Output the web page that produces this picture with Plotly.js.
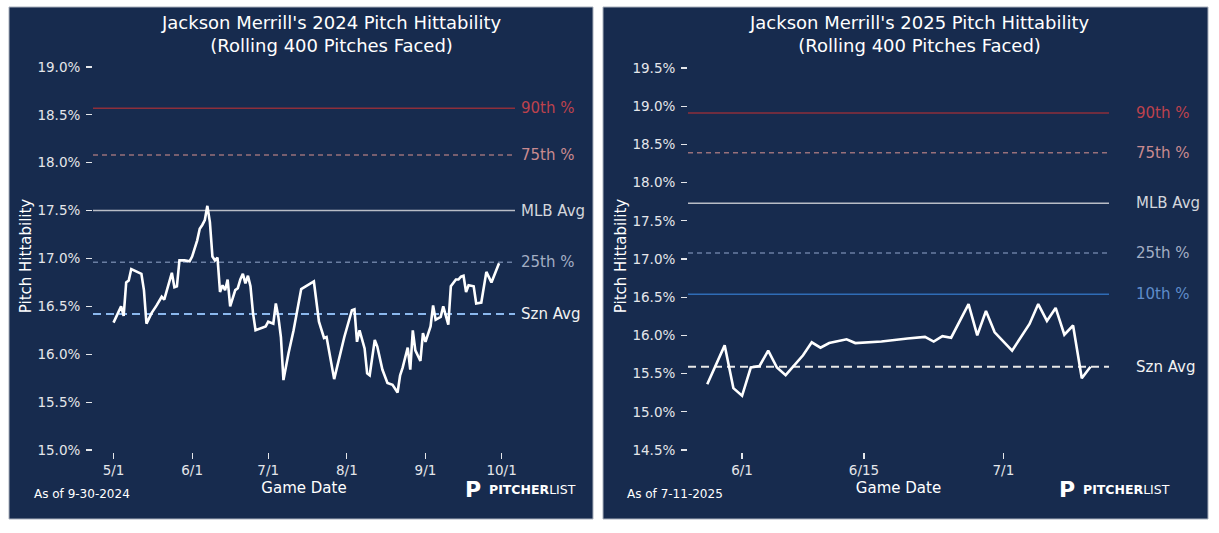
<!DOCTYPE html>
<html>
<head>
<meta charset="utf-8">
<script src="https://cdn.plot.ly/plotly-3.0.1.min.js"></script>
<style>
  html, body { margin: 0; padding: 0; background: #ffffff; }
  #chart { width: 1219px; height: 533px; }
</style>
</head>
<body>
<div id="chart"></div>
<script>
const NAVY = '#172b4e';
const FG = '#ffffff';
const TICK = '#e4e6ea';

// 2024 rolling pitch hittability (%)
const dates2024 = [
  '2024-05-01', '2024-05-04', '2024-05-05', '2024-05-06', '2024-05-07', '2024-05-08',
  '2024-05-12', '2024-05-13', '2024-05-14', '2024-05-16', '2024-05-18', '2024-05-20',
  '2024-05-21', '2024-05-22', '2024-05-24', '2024-05-25', '2024-05-26', '2024-05-27',
  '2024-05-29', '2024-05-31', '2024-06-01', '2024-06-03', '2024-06-04', '2024-06-05',
  '2024-06-06', '2024-06-07', '2024-06-08', '2024-06-09', '2024-06-10', '2024-06-11',
  '2024-06-12', '2024-06-13', '2024-06-14', '2024-06-15', '2024-06-16', '2024-06-18',
  '2024-06-19', '2024-06-20', '2024-06-21', '2024-06-22', '2024-06-23', '2024-06-24',
  '2024-06-25', '2024-06-26', '2024-06-30', '2024-07-01', '2024-07-03', '2024-07-04',
  '2024-07-05', '2024-07-06', '2024-07-07', '2024-07-09', '2024-07-11', '2024-07-14',
  '2024-07-19', '2024-07-21', '2024-07-23', '2024-07-24', '2024-07-26', '2024-07-27',
  '2024-07-31', '2024-08-03', '2024-08-04', '2024-08-05', '2024-08-06', '2024-08-08',
  '2024-08-09', '2024-08-10', '2024-08-12', '2024-08-13', '2024-08-15', '2024-08-17',
  '2024-08-19', '2024-08-21', '2024-08-22', '2024-08-23', '2024-08-25', '2024-08-26',
  '2024-08-27', '2024-08-28', '2024-08-30', '2024-08-31', '2024-09-01', '2024-09-03',
  '2024-09-04', '2024-09-05', '2024-09-07', '2024-09-08', '2024-09-10', '2024-09-11',
  '2024-09-13', '2024-09-14', '2024-09-15', '2024-09-16', '2024-09-17', '2024-09-18',
  '2024-09-20', '2024-09-21', '2024-09-23', '2024-09-25', '2024-09-27', '2024-09-30'
];
const hit2024 = [
  16.33, 16.50, 16.40, 16.75, 16.77, 16.89,
  16.84, 16.67, 16.32, 16.43, 16.51, 16.60,
  16.57, 16.67, 16.85, 16.70, 16.71, 16.98,
  16.98, 16.97, 17.02, 17.19, 17.31, 17.35,
  17.40, 17.55, 17.38, 17.02, 16.98, 17.01,
  16.65, 16.72, 16.67, 16.78, 16.50, 16.67,
  16.69, 16.78, 16.84, 16.74, 16.82, 16.71,
  16.43, 16.25, 16.29, 16.34, 16.32, 16.53,
  16.39, 16.18, 15.73, 16.01, 16.25, 16.68,
  16.76, 16.34, 16.17, 16.18, 15.86, 15.74,
  16.18, 16.46, 16.47, 16.13, 16.25, 16.06,
  15.80, 15.78, 16.15, 16.08, 15.84, 15.70,
  15.68, 15.60, 15.78, 15.86, 16.07, 15.84,
  16.25, 16.04, 15.93, 16.22, 16.13, 16.29,
  16.51, 16.36, 16.39, 16.50, 16.31, 16.71,
  16.78, 16.78, 16.81, 16.82, 16.65, 16.72,
  16.71, 16.53, 16.54, 16.86, 16.75, 16.95
];

// 2025 rolling pitch hittability (%)
const dates2025 = [
  '2025-05-28', '2025-05-30', '2025-05-31', '2025-06-01', '2025-06-02', '2025-06-03',
  '2025-06-04', '2025-06-05', '2025-06-06', '2025-06-07', '2025-06-08', '2025-06-09',
  '2025-06-10', '2025-06-11', '2025-06-13', '2025-06-14', '2025-06-17', '2025-06-20',
  '2025-06-22', '2025-06-23', '2025-06-24', '2025-06-25', '2025-06-27', '2025-06-28',
  '2025-06-29', '2025-06-30', '2025-07-02', '2025-07-04', '2025-07-05', '2025-07-06',
  '2025-07-07', '2025-07-08', '2025-07-09', '2025-07-10', '2025-07-11'
];
const hit2025 = [
  15.36, 15.87, 15.31, 15.21, 15.58, 15.60,
  15.80, 15.58, 15.48, 15.61, 15.74, 15.91,
  15.84, 15.90, 15.95, 15.90, 15.92, 15.96,
  15.98, 15.92, 15.99, 15.97, 16.41, 16.00,
  16.32, 16.04, 15.80, 16.15, 16.41, 16.19,
  16.36, 16.01, 16.13, 15.44, 15.59
];

// reference levels
const refNames2024 = ['90th %', '75th %', 'MLB Avg', '25th %', 'Szn Avg'];
const refVals2024 = [18.57, 18.08, 17.50, 16.96, 16.42];
const refNames2025 = ['90th %', '75th %', 'MLB Avg', '25th %', '10th %', 'Szn Avg'];
const refVals2025 = [18.91, 18.39, 17.73, 17.08, 16.54, 15.59];

const ticks2024 = ['2024-05-01', '2024-06-01', '2024-07-01', '2024-08-01', '2024-09-01', '2024-10-01'];
const tickText2024 = ['5/1', '6/1', '7/1', '8/1', '9/1', '10/1'];
const ticks2025 = ['2025-06-01', '2025-06-15', '2025-07-01'];
const tickText2025 = ['6/1', '6/15', '7/1'];
const yTicks2024 = [15.0, 15.5, 16.0, 16.5, 17.0, 17.5, 18.0, 18.5, 19.0];
const yTickText2024 = ['15.0%', '15.5%', '16.0%', '16.5%', '17.0%', '17.5%', '18.0%', '18.5%', '19.0%'];
const yTicks2025 = [14.5, 15.0, 15.5, 16.0, 16.5, 17.0, 17.5, 18.0, 18.5, 19.0, 19.5];
const yTickText2025 = ['14.5%', '15.0%', '15.5%', '16.0%', '16.5%', '17.0%', '17.5%', '18.0%', '18.5%', '19.0%', '19.5%'];

const W = 1219, H = 533;
const px = (x) => x / W;
const py = (y) => 1 - y / H;

const refStyle = {
  '90th %': { line: '#8e2f3b', dash: 'solid', width: 1.5, text: '#bd424d' },
  '75th %': { line: '#98707a', dash: '5px,4px', width: 1.5, text: '#c98a8f' },
  'MLB Avg': { line: '#b9bdc6', dash: 'solid', width: 1.5, text: '#d3d6dc' },
  '25th %': { line: '#6a7ea2', dash: '5px,4px', width: 1.5, text: '#a3aec4' },
  '10th %': { line: '#2f6cb6', dash: 'solid', width: 1.5, text: '#5f8cca' }
};

function refShapes(names, vals, xr, yr, sznColor) {
  return names.map((n, i) => {
    const st = refStyle[n] || { line: sznColor, dash: '8px,5px', width: 2 };
    return {
      type: 'line', xref: xr + ' domain', yref: yr, x0: 0, x1: 1, y0: vals[i], y1: vals[i],
      line: { color: st.line, width: st.width, dash: st.dash }, layer: 'below'
    };
  });
}

function refLabels(names, vals, xr, yr, shift) {
  return names.map((n, i) => ({
    xref: xr + ' domain', yref: yr, x: 1, y: vals[i], xanchor: 'left', yanchor: 'middle',
    xshift: shift, showarrow: false, text: n,
    font: { size: 15, color: (refStyle[n] || { text: '#f2f2f2' }).text }
  }));
}

function xAxis(dom, range, vals, text) {
  return {
    domain: dom, range: range, type: 'date', showgrid: false, zeroline: false, showline: false,
    tickmode: 'array', tickvals: vals, ticktext: text, ticks: 'outside', ticklen: 6,
    tickwidth: 1.2, tickcolor: TICK, tickfont: { size: 13.5, color: TICK },
    title: { text: 'Game Date', font: { size: 15, color: FG }, standoff: 5 }
  };
}

function yAxis(dom, range, vals, text, anchor) {
  return {
    domain: dom, range: range, anchor: anchor, showgrid: false, zeroline: false, showline: false,
    tickmode: 'array', tickvals: vals, ticktext: text,
    ticks: 'outside', ticklen: 6, tickwidth: 1.2, tickcolor: TICK, ticklabelstandoff: 3,
    tickfont: { size: 13.5, color: TICK },
    title: { text: 'Pitch Hittability', font: { size: 15, color: FG }, standoff: 2 }
  };
}

function note(x, y, text, size, anchor) {
  return { xref: 'paper', yref: 'paper', x: px(x), y: py(y), xanchor: anchor, yanchor: 'middle',
    showarrow: false, text: text, font: { size: size, color: FG } };
}

const traces = [
  { x: dates2024, y: hit2024, xaxis: 'x', yaxis: 'y', type: 'scatter', mode: 'lines',
    line: { color: FG, width: 2.6 }, hoverinfo: 'skip' },
  { x: dates2025, y: hit2025, xaxis: 'x2', yaxis: 'y2', type: 'scatter', mode: 'lines',
    line: { color: FG, width: 2.6 }, hoverinfo: 'skip' }
];

const panels = [
  { type: 'rect', xref: 'paper', yref: 'paper', x0: px(9), x1: px(593), y0: py(519), y1: py(7),
    fillcolor: NAVY, line: { color: '#a9b0bc', width: 1 }, layer: 'below' },
  { type: 'rect', xref: 'paper', yref: 'paper', x0: px(603), x1: px(1208), y0: py(519), y1: py(7),
    fillcolor: NAVY, line: { color: '#a9b0bc', width: 1 }, layer: 'below' }
];

const notes = [
  note(331, 34, "Jackson Merrill's 2024 Pitch Hittability<br>(Rolling 400 Pitches Faced)", 18, 'center'),
  note(919, 34, "Jackson Merrill's 2025 Pitch Hittability<br>(Rolling 400 Pitches Faced)", 18, 'center'),
  note(32, 494, 'As of 9-30-2024', 12, 'left'),
  note(625, 494, 'As of 7-11-2025', 12, 'left'),
  note(473, 489, '<b>P</b>', 22, 'center'),
  note(487, 489, '<b>PITCHER</b>LIST', 12.5, 'left'),
  note(1067, 489, '<b>P</b>', 22, 'center'),
  note(1081, 489, '<b>PITCHER</b>LIST', 12.5, 'left')
];

const yDom = [py(452), py(60)];

const layout = {
  width: W, height: H,
  margin: { l: 0, r: 0, t: 0, b: 0 },
  paper_bgcolor: '#ffffff',
  plot_bgcolor: 'rgba(0,0,0,0)',
  showlegend: false,
  font: { family: 'DejaVu Sans, sans-serif', color: FG },
  xaxis: xAxis([px(93), px(515)], ['2024-04-22 22:00', '2024-10-06 07:00'], ticks2024, tickText2024),
  yaxis: yAxis(yDom, [14.979, 19.073], yTicks2024, yTickText2024, 'x'),
  xaxis2: xAxis([px(688), px(1109)], ['2025-05-25 19:00', '2025-07-13 03:00'], ticks2025, tickText2025),
  yaxis2: yAxis(yDom, [14.474, 19.605], yTicks2025, yTickText2025, 'x2'),
  shapes: panels
    .concat(refShapes(refNames2024, refVals2024, 'x', 'y', '#8bb8ee'))
    .concat(refShapes(refNames2025, refVals2025, 'x2', 'y2', '#e8e8e8')),
  annotations: notes
    .concat(refLabels(refNames2024, refVals2024, 'x', 'y', 4))
    .concat(refLabels(refNames2025, refVals2025, 'x2', 'y2', 25))
};
layout.xaxis.anchor = 'y';
layout.xaxis2.anchor = 'y2';

Plotly.newPlot('chart', traces, layout, { displayModeBar: false, staticPlot: true });
</script>
</body>
</html>
